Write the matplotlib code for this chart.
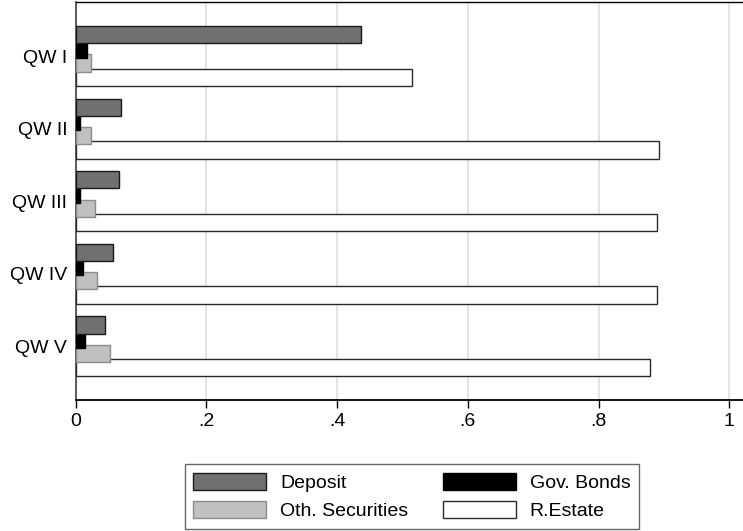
import matplotlib
matplotlib.use("Agg")
import matplotlib.pyplot as plt
import numpy as np

plt.rcParams['font.family'] = ['Liberation Sans', 'DejaVu Sans']

# Portfolio shares by wealth quintile
groups = ["QW I", "QW II", "QW III", "QW IV", "QW V"]
series_names = ["Deposit", "Gov. Bonds", "Oth. Securities", "R.Estate"]
deposit = [0.436, 0.070, 0.066, 0.057, 0.045]
gov_bonds = [0.017, 0.006, 0.007, 0.011, 0.014]
oth_securities = [0.024, 0.024, 0.029, 0.033, 0.053]
real_estate = [0.515, 0.893, 0.889, 0.890, 0.878]
x_ticks = [0, 0.2, 0.4, 0.6, 0.8, 1.0]
x_tick_labels = ["0", ".2", ".4", ".6", ".8", "1"]

values = [deposit, gov_bonds, oth_securities, real_estate]
fills = ["#707070", "#000000", "#c0c0c0", "#ffffff"]
edges = ["#1a1a1a", "#000000", "#8c8c8c", "#2a2a2a"]

FS = 14

fig = plt.figure(figsize=(7.43, 5.31), dpi=100)
ax = fig.add_axes([75.7 / 743, 1 - 400 / 531, 1 - 75.7 / 743, (400 - 2.3) / 531])

pos = np.arange(len(groups))
step = 0.196
height = 0.238
offsets = [-1.5 * step, -0.5 * step, 0.5 * step, 1.5 * step]

# later series drawn first so upper bars overlap lower ones
handles = [None] * 4
for i in reversed(range(4)):
    handles[i] = ax.barh(pos + offsets[i], values[i], height=height,
                         color=fills[i], edgecolor=edges[i], linewidth=1.0,
                         label=series_names[i], zorder=3)

ax.set_xlim(0, (743 - 75.7) / 653.6)
ax.set_ylim(4.74, -0.74)

ax.set_yticks(pos)
ax.set_yticklabels(groups, fontsize=FS)
ax.tick_params(axis='y', length=0, pad=6)

ax.set_xticks(x_ticks)
ax.set_xticklabels(x_tick_labels, fontsize=FS)
ax.tick_params(axis='x', length=5.5, width=1.0, direction='out', pad=4, colors='black')

ax.grid(axis='x', color='#dedede', linewidth=1.2, zorder=0)
ax.set_axisbelow(True)

ax.spines['right'].set_visible(False)
ax.spines['left'].set_color('#404040')
ax.spines['left'].set_linewidth(1.2)
ax.spines['bottom'].set_color('black')
ax.spines['bottom'].set_linewidth(1.3)
ax.spines['top'].set_color('black')
ax.spines['top'].set_linewidth(1.0)

# legend fills column by column: order entries so rows read Deposit/Gov. Bonds, Oth./R.Estate
order = [0, 2, 1, 3]
leg = fig.legend(handles=[handles[k] for k in order],
                 labels=[series_names[k] for k in order],
                 loc='center', bbox_to_anchor=(411.9 / 743, 1 - 496.5 / 531),
                 ncol=2, fontsize=FS, frameon=True, fancybox=False,
                 edgecolor='#404040', handlelength=3.75, handleheight=1.0,
                 handletextpad=0.7, columnspacing=1.8, borderpad=0.45,
                 labelspacing=0.45, borderaxespad=0)
leg.get_frame().set_linewidth(1.0)

fig.savefig("out.png", dpi=100)
